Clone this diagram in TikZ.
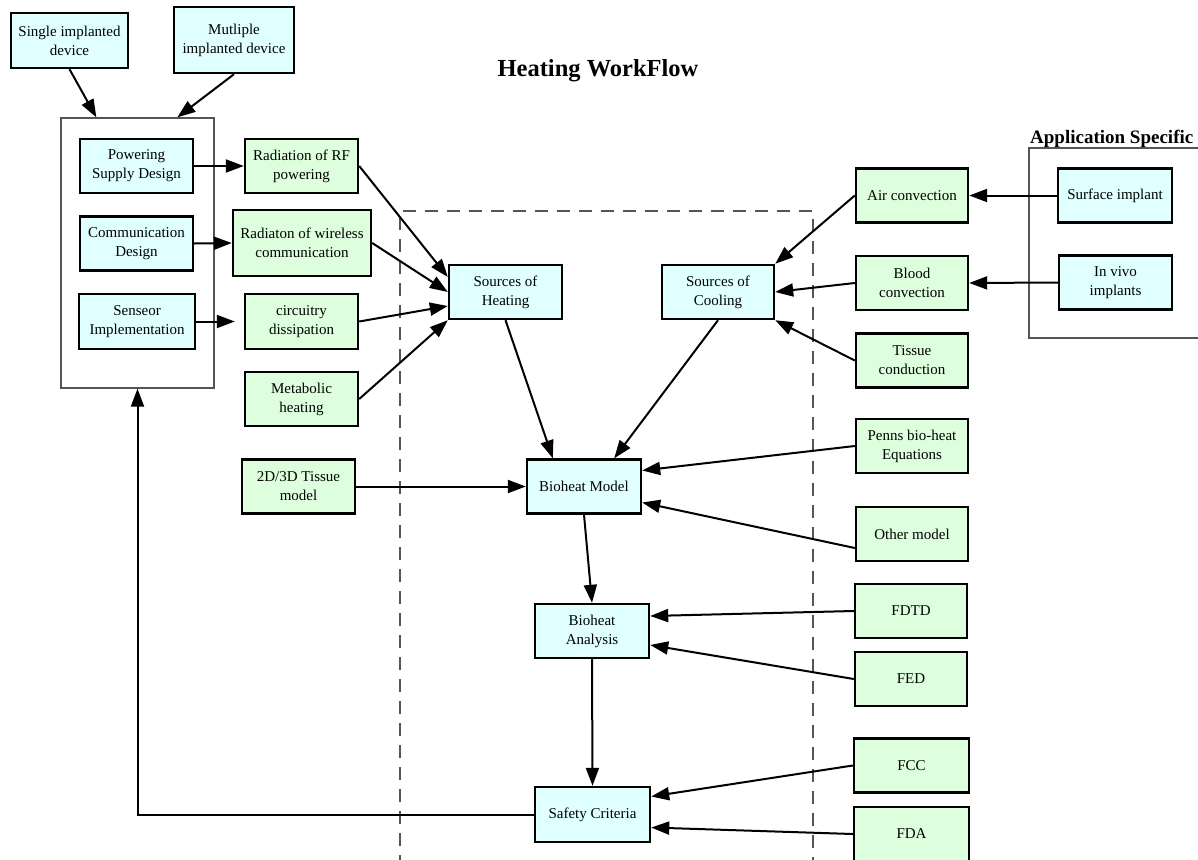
\documentclass[tikz,border=0pt]{standalone}
\usepackage{fontspec}
\setmainfont{Liberation Serif}
\usetikzlibrary{arrows.meta,calc}
\definecolor{boxcyan}{HTML}{E0FFFF}
\definecolor{boxgreen}{HTML}{DDFFDD}
\definecolor{framegray}{HTML}{555555}

\begin{document}
\begin{tikzpicture}[x=1pt,y=-1pt,
  box/.style={draw=black, line width=2.4pt, align=center, minimum width=113pt,
    minimum height=54pt, inner sep=2pt, font=\fontsize{15}{19}\selectfont},
  cyanbox/.style={box, fill=boxcyan},
  greenbox/.style={box, fill=boxgreen},
  link/.style={line width=2pt, -{Triangle[length=18pt,width=13pt]}},
  frame/.style={draw=framegray, line width=1.3pt},
  dashframe/.style={frame, dash pattern=on 13pt off 9pt}]

\useasboundingbox (0,0) rectangle (1198,859);
\clip (0,0) rectangle (1198,859);

% clusters
\draw[dashframe] (400,890) -- (400,211) -- (813,211) -- (813,890);
\draw[frame] (1215,148) -- (1029,148) -- (1029,338) -- (1215,338);
\node[anchor=base west, inner sep=0, font=\bfseries\fontsize{19}{22}\selectfont]
  (applabel) at (1030,143) {Application Specific};
\node[frame, minimum width=153pt, minimum height=270pt, inner sep=0] (lb) at (137.5,253) {};

% title
\node[anchor=base, inner sep=0, font=\bfseries\fontsize{24.5}{28}\selectfont]
  (title) at (598,77) {Heating WorkFlow};

% device nodes
\node[cyanbox, minimum width=117pt, minimum height=55pt] (single) at (69.5,40.5) {Single implanted\\device};
\node[cyanbox, minimum width=120pt, minimum height=66pt] (multi) at (234,40) {Mutliple\\implanted device};
\node[cyanbox] (power) at (136.5,166) {Powering\\Supply Design};
\node[cyanbox] (comm) at (136.5,243.5) {Communication\\Design};
\node[cyanbox, minimum width=116pt, minimum height=55pt] (sensor) at (137,321.5) {Senseor\\Implementation};

% heating sources
\node[greenbox] (rf) at (301.5,166) {Radiation of RF\\powering};
\node[greenbox, minimum width=138pt, minimum height=66pt] (wireless) at (302,243) {Radiaton of wireless\\communication};
\node[greenbox, minimum height=55pt] (circ) at (301.5,321.5) {circuitry\\dissipation};
\node[greenbox] (metab) at (301.5,399) {Metabolic\\heating};
\node[greenbox] (tissuemodel) at (298.5,486.5) {2D/3D Tissue\\model};

% central chain
\node[cyanbox] (heat) at (505.5,292) {Sources of\\Heating};
\node[cyanbox, minimum width=112pt] (cool) at (718,292) {Sources of\\Cooling};
\node[cyanbox, minimum width=114pt] (model) at (584,486.5) {Bioheat Model};
\node[cyanbox, minimum width=114pt] (analysis) at (592,631) {Bioheat\\Analysis};
\node[cyanbox, minimum width=115pt, minimum height=55pt] (safety) at (592.5,814.5) {Safety Criteria};

% right column
\node[greenbox, minimum width=112pt] (air) at (912,195.5) {Air convection};
\node[greenbox, minimum width=112pt] (blood) at (912,283) {Blood\\convection};
\node[greenbox, minimum width=112pt] (tissue) at (912,360.5) {Tissue\\conduction};
\node[greenbox, minimum width=112pt] (penns) at (912,446) {Penns bio-heat\\Equations};
\node[greenbox, minimum width=112pt] (other) at (912,534) {Other model};
\node[greenbox, minimum width=112pt] (fdtd) at (911,611) {FDTD};
\node[greenbox, minimum width=112pt] (fed) at (911,679) {FED};
\node[greenbox, minimum width=115pt] (fcc) at (911.5,765.5) {FCC};
\node[greenbox, minimum width=115pt] (fda) at (911.5,834) {FDA};

% application specific
\node[cyanbox, minimum width=114pt] (surface) at (1115,195.5) {Surface implant};
\node[cyanbox, minimum width=113pt] (invivo) at (1115.5,282.5) {In vivo\\implants};

% connectors
\draw[link] (single.south) -- ([xshift=36pt]lb.north west);
\draw[link] (multi.south) -- ([xshift=117pt]lb.north west);
\draw[link] (power.east) -- (rf.west);
\draw[link] (comm.east) -- (wireless.west);
\draw[link, shorten >=9pt] (sensor.east) -- (circ.west);

\draw[link] (rf.east) -- ([yshift=15pt]heat.west);
\draw[link] (wireless.east) -- (heat.west);
\draw[link] (circ.east) -- ([yshift=-14pt]heat.west);
\draw[link] (metab.east) -- (heat.south west);

\draw[link] (air.west) -- (cool.north east);
\draw[link] (blood.west) -- (cool.east);
\draw[link] (tissue.west) -- (cool.south east);
\draw[link] (surface.west) -- (air.east);
\draw[link] (invivo.west) -- (blood.east);

\draw[link] (heat.south) -- ([xshift=27pt]model.north west);
\draw[link] (cool.south) -- ([xshift=-28pt]model.north east);
\draw[link] (penns.west) -- ([yshift=16pt]model.east);
\draw[link] ([yshift=-14pt]other.west) -- ([yshift=-16pt]model.east);
\draw[link] (tissuemodel.east) -- (model.west);

\draw[link] (model.south) -- (analysis.north);
\draw[link] (fdtd.west) -- ([yshift=15pt]analysis.east);
\draw[link] (fed.west) -- ([yshift=-14pt]analysis.east);
\draw[link] (analysis.south) -- (safety.north);
\draw[link] (fcc.west) -- ([yshift=18pt]safety.east);
\draw[link] (fda.west) -- ([yshift=-13pt]safety.east);
\draw[link] (safety.west) -- (lb.south |- safety.west) -- (lb.south);

\end{tikzpicture}
\end{document}
